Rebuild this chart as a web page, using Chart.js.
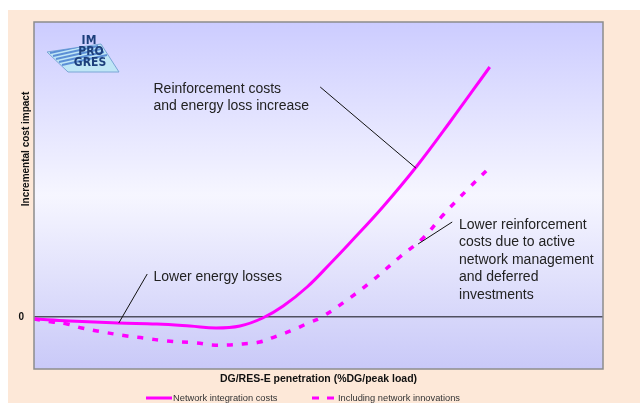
<!DOCTYPE html>
<html>
<head>
<meta charset="utf-8">
<script src="https://cdn.jsdelivr.net/npm/chart.js@4.4.1/dist/chart.umd.min.js"></script>
<style>
  html, body { margin: 0; padding: 0; background: #fff; }
  #wrap { width: 640px; height: 403px; position: relative; }
</style>
</head>
<body>
<div id="wrap"><canvas id="grafik" width="640" height="403"></canvas></div>
<script>
// penetration (% of axis) and incremental cost (arbitrary units, 0 = no impact)
const penetrationSolid = [0, 6.3, 14.8, 21.6, 27.4, 32.0, 36.2, 40.2, 43.8, 48.0, 52.0, 55.5, 61.3, 67.3, 73.1, 80.1];
const costSolid        = [-0.02, -0.04, -0.06, -0.07, -0.09, -0.11, -0.09, -0.01, 0.11, 0.30, 0.53, 0.74, 1.10, 1.51, 1.95, 2.50];

const penetrationDashed = [0, 3.2, 5.8, 8.4, 11.1, 16.3, 19.2, 23.4, 28.6, 31.3, 33.9, 36.7, 39.7, 42.7, 45.5, 48.2, 50.6, 55.5, 59.6, 64.3, 68.4, 71.9, 76.1, 79.8];
const costDashed        = [-0.02, -0.05, -0.07, -0.11, -0.14, -0.19, -0.21, -0.24, -0.26, -0.28, -0.28, -0.27, -0.25, -0.19, -0.13, -0.06, 0.00, 0.19, 0.37, 0.60, 0.79, 1.02, 1.27, 1.48];

const seriesNames = ['Network integration costs', 'Including network innovations'];
const yTicks = [0];

// annotation texts with their leader lines (data coords)
const notes = [
  { lines: ['Reinforcement costs', 'and energy loss increase'], at: [21.0, 2.28], from: [50.3, 2.30], to: [67.1, 1.49] },
  { lines: ['Lower energy losses'], at: [21.0, 0.40], from: [19.9, 0.43], to: [14.9, -0.06] },
  { lines: ['Lower reinforcement', 'costs due to active', 'network management', 'and deferred', 'investments'], at: [74.7, 0.92], from: [73.5, 0.95], to: [67.5, 0.73] }
];

const magenta = '#ff00ff';

const toPoints = (xs, ys) => xs.map((x, i) => ({ x: x, y: ys[i] }));

const decor = {
  id: 'decor',
  beforeDraw(chart) {
    const { ctx, chartArea: a } = chart;
    ctx.save();
    ctx.fillStyle = '#fde8d8';
    ctx.fillRect(8, 10, chart.width - 8, chart.height - 10);
    const g = ctx.createLinearGradient(0, a.top, 0, a.bottom);
    g.addColorStop(0, '#ccccff');
    g.addColorStop(0.5, '#f6f6ff');
    g.addColorStop(1, '#c9c9f8');
    ctx.fillStyle = g;
    ctx.fillRect(a.left, a.top, a.right - a.left, a.bottom - a.top);
    ctx.restore();
  },
  afterDraw(chart) {
    const { ctx, chartArea: a, scales } = chart;
    const xs = scales.x, ys = scales.y;
    ctx.save();
    ctx.strokeStyle = '#8c8c8c';
    ctx.lineWidth = 1.5;
    ctx.strokeRect(a.left, a.top, a.right - a.left, a.bottom - a.top);

    // notes
    ctx.font = '14px "Liberation Sans", Arial, sans-serif';
    ctx.fillStyle = '#222';
    ctx.textBaseline = 'middle';
    ctx.textAlign = 'left';
    notes.forEach(n => {
      const px = xs.getPixelForValue(n.at[0]);
      const py = ys.getPixelForValue(n.at[1]);
      n.lines.forEach((t, i) => ctx.fillText(t, px, py + i * 17.5));
      ctx.beginPath();
      ctx.strokeStyle = '#111';
      ctx.lineWidth = 1;
      ctx.moveTo(xs.getPixelForValue(n.from[0]), ys.getPixelForValue(n.from[1]));
      ctx.lineTo(xs.getPixelForValue(n.to[0]), ys.getPixelForValue(n.to[1]));
      ctx.stroke();
    });

    // y title
    ctx.save();
    ctx.translate(26, 149);
    ctx.rotate(-Math.PI / 2);
    ctx.font = 'bold 10px "Liberation Sans", Arial, sans-serif';
    ctx.fillStyle = '#111';
    ctx.textAlign = 'center';
    ctx.fillText('Incremental cost impact', 0, 0);
    ctx.restore();

    // legend
    const ly = 398;
    ctx.lineWidth = 3;
    ctx.strokeStyle = magenta;
    ctx.beginPath(); ctx.moveTo(146, ly); ctx.lineTo(172, ly); ctx.stroke();
    ctx.setLineDash([7, 8]);
    ctx.beginPath(); ctx.moveTo(312, ly); ctx.lineTo(334, ly); ctx.stroke();
    ctx.setLineDash([]);
    ctx.font = '9.3px "Liberation Sans", Arial, sans-serif';
    ctx.fillStyle = '#333';
    ctx.fillText(seriesNames[0], 173, ly);
    ctx.fillText(seriesNames[1], 338, ly);

    // logo
    drawLogo(ctx);
    ctx.restore();
  }
};

function drawLogo(ctx) {
  ctx.save();
  ctx.beginPath();
  ctx.moveTo(101, 44);
  ctx.lineTo(47, 52);
  ctx.lineTo(68, 72);
  ctx.lineTo(119, 72);
  ctx.closePath();
  ctx.fillStyle = '#bfe6f6';
  ctx.fill();
  ctx.strokeStyle = '#7aa6d6';
  ctx.lineWidth = 1;
  ctx.stroke();
  ctx.clip();
  ctx.strokeStyle = '#5c8fd6';
  ctx.lineWidth = 2;
  for (let i = 0; i < 6; i++) {
    ctx.beginPath();
    ctx.moveTo(47 + i * 3, 50 + i * 3);
    ctx.lineTo(92 + i * 3, 40 + i * 3);
    ctx.stroke();
  }
  ctx.restore();
  ctx.save();
  ctx.font = 'bold 12px "DejaVu Sans Condensed", "Liberation Sans", sans-serif';
  ctx.textAlign = 'center';
  ctx.textBaseline = 'middle';
  ctx.fillStyle = '#1d3f7c';
  ctx.fillText('IM', 89, 41);
  ctx.fillText('PRO', 91, 52);
  ctx.fillText('GRES', 90, 63);
  ctx.restore();
}

const ctx = document.getElementById('grafik');
new Chart(ctx, {
  type: 'line',
  data: {
    datasets: [{
      label: seriesNames[0],
      data: toPoints(penetrationSolid, costSolid),
      borderColor: magenta,
      borderWidth: 3,
      pointRadius: 0,
      tension: 0.4,
      fill: false
    }, {
      label: seriesNames[1],
      data: toPoints(penetrationDashed, costDashed),
      borderColor: magenta,
      borderWidth: 3.5,
      borderDash: [6, 9],
      pointRadius: 0,
      tension: 0.4,
      fill: false
    }]
  },
  options: {
    responsive: false,
    animation: false,
    devicePixelRatio: 1,
    layout: { padding: { top: 22, right: 37, left: 0, bottom: 0 } },
    plugins: { legend: { display: false }, tooltip: { enabled: false } },
    scales: {
      x: {
        type: 'linear',
        min: 0,
        max: 100,
        grid: { display: false },
        border: { display: false },
        ticks: { display: false },
        title: {
          display: true,
          text: 'DG/RES-E penetration (%DG/peak load)',
          color: '#111',
          font: { family: '"Liberation Sans", Arial, sans-serif', size: 10.5, weight: 'bold' },
          padding: { top: 0, bottom: 17.7 }
        },
        afterFit: (s) => { s.height = 34; }
      },
      y: {
        min: -0.52,
        max: 2.95,
        afterBuildTicks: (s) => { s.ticks = yTicks.map(v => ({ value: v })); },
        grid: { display: true, drawTicks: false, color: '#505060', lineWidth: 1.5 },
        border: { display: false },
        ticks: {
          padding: 10,
          color: '#111',
          font: { family: '"Liberation Sans", Arial, sans-serif', size: 10, weight: 'bold' }
        },
        afterFit: (s) => { s.width = 34; }
      }
    }
  },
  plugins: [decor]
});
</script>
</body>
</html>
